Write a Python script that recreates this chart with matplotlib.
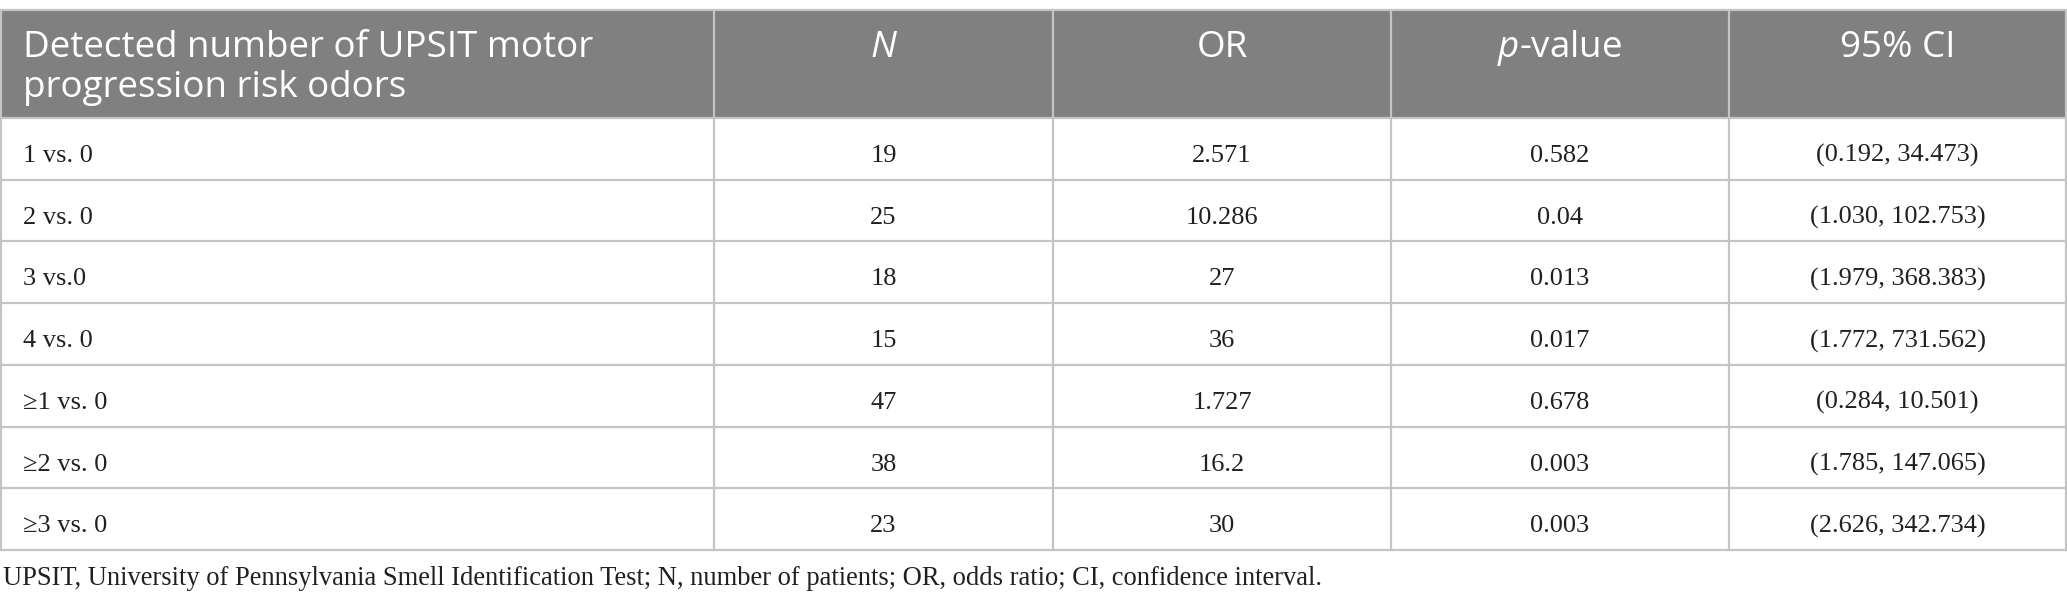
import matplotlib
matplotlib.use("Agg")
import matplotlib.pyplot as plt

plt.rcParams["mathtext.fontset"] = "custom"
plt.rcParams["mathtext.it"] = "Open Sans:italic"
plt.rcParams["mathtext.rm"] = "Open Sans"

# ---- data ----
headers = ["Detected number of UPSIT motor\nprogression risk odors", "N", "OR", r"$p$-value", "95% CI"]
comparisons = ["1 vs. 0", "2 vs. 0", "3 vs.0", "4 vs. 0", "≥1 vs. 0", "≥2 vs. 0", "≥3 vs. 0"]
n_patients = ["19", "25", "18", "15", "47", "38", "23"]
odds_ratio = ["2.571", "10.286", "27", "36", "1.727", "16.2", "30"]
p_values = ["0.582", "0.04", "0.013", "0.017", "0.678", "0.003", "0.003"]
ci_95 = ["(0.192, 34.473)", "(1.030, 102.753)", "(1.979, 368.383)", "(1.772, 731.562)",
         "(0.284, 10.501)", "(1.785, 147.065)", "(2.626, 342.734)"]
footnote = ("UPSIT, University of Pennsylvania Smell Identification Test; N, number of patients; "
            "OR, odds ratio; CI, confidence interval.")

# ---- layout (pixels) ----
W, H = 2067, 607
col_edges = [1, 714, 1053, 1391, 1729, 2066]
header_top, header_bot = 10, 118
row_h = (550 - 118) / 7
header_grey = "#808080"
line_grey = "#c4c4c4"
text_col = "#231f20"
sans = ["Open Sans", "DejaVu Sans"]
serif = ["Liberation Serif", "DejaVu Serif"]

fig = plt.figure(figsize=(W / 100, H / 100), dpi=100)
ax = fig.add_axes([0, 0, 1, 1])
ax.set_xlim(0, W)
ax.set_ylim(H, 0)
ax.axis("off")

# header background
ax.add_patch(plt.Rectangle((col_edges[0], header_top), col_edges[-1] - col_edges[0],
                           header_bot - header_top, facecolor=header_grey, edgecolor="none"))

# header texts
hfs = 26.5
line1_base, line2_base = 57, 97
for i, line in enumerate(headers[0].split("\n")):
    ax.text(col_edges[0] + 22, [line1_base, line2_base][i], line, color="white", fontsize=hfs,
            family=sans, ha="left", va="baseline")
for c in range(1, 5):
    xc = (col_edges[c] + col_edges[c + 1]) / 2
    ax.text(xc, line1_base, headers[c], color="white", fontsize=hfs, family=sans,
            style="italic" if headers[c] == "N" else "normal", ha="center", va="baseline")

# grid lines
lw = 1.6
ys = [header_bot + i * row_h for i in range(8)]
ax.plot([col_edges[0], col_edges[-1]], [header_top, header_top], color=line_grey, lw=lw)
for y in ys:
    ax.plot([col_edges[0], col_edges[-1]], [y, y], color=line_grey, lw=lw)
for x in col_edges:
    ax.plot([x, x], [header_top, ys[-1]], color=line_grey, lw=lw)

# body
bfs = 19
columns = [n_patients, odds_ratio, p_values, ci_95]
for r in range(len(comparisons)):
    yb = header_bot + r * row_h + 44
    ax.text(col_edges[0] + 22, yb, comparisons[r], fontsize=bfs, family=serif,
            ha="left", va="baseline", color=text_col)
    for c, col in enumerate(columns):
        xc = (col_edges[c + 1] + col_edges[c + 2]) / 2
        ax.text(xc, yb, col[r], fontsize=bfs, family=serif, ha="center", va="baseline",
                color=text_col)

ax.text(3, 585, footnote, fontsize=19.1, family=serif, ha="left", va="baseline", color=text_col)

fig.savefig("out.png", dpi=100)
